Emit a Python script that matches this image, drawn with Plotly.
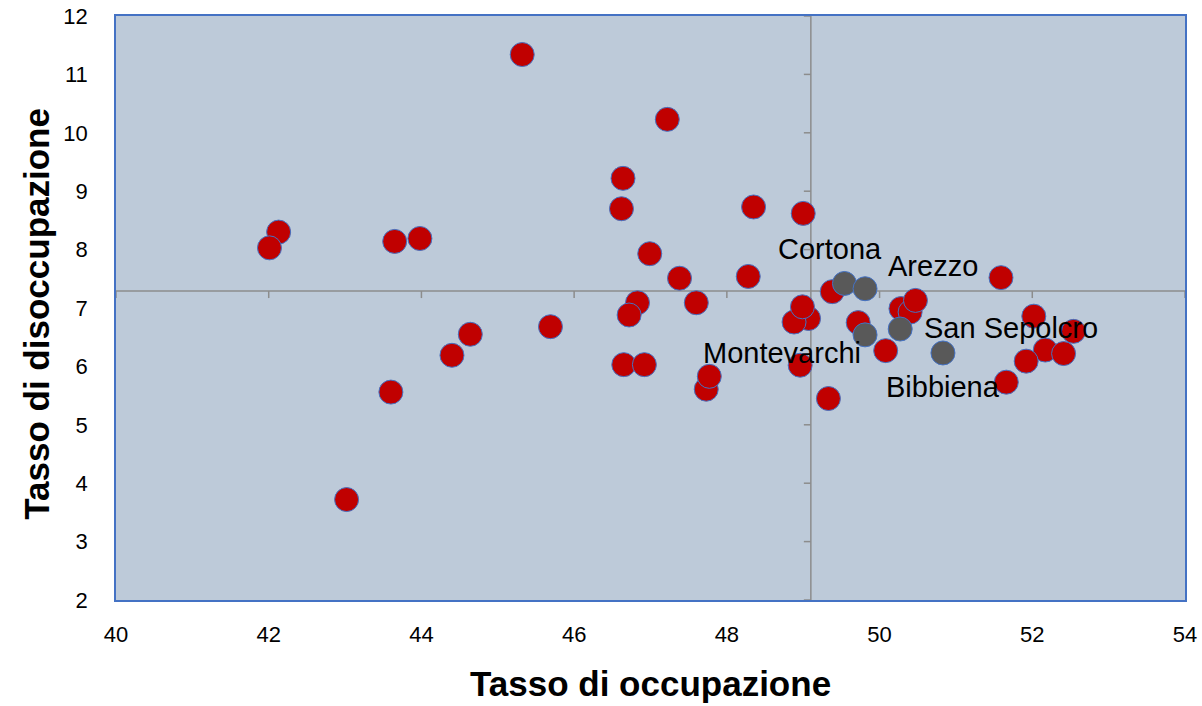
import plotly.graph_objects as go

# ---- data ----
red_x = [49.07, 48.88, 48.99, 42.13, 42.01, 43.65, 43.98, 45.32, 47.22, 46.64, 46.62,
         46.99, 48.35, 49.00, 47.38, 48.28, 46.83, 46.72, 47.60, 45.69, 46.65,
         46.92, 47.73, 47.77, 48.96, 49.33, 49.38, 49.72, 50.08, 50.28,
         50.40, 50.47, 51.59, 52.02, 52.54, 52.17, 52.41, 51.92, 51.66, 44.64,
         44.40, 43.60, 43.02]
red_y = [6.82, 6.76, 7.02, 8.30, 8.03, 8.14, 8.19, 11.34, 10.23, 9.22, 8.70,
         7.93, 8.73, 8.62, 7.51, 7.54, 7.09, 6.88, 7.09, 6.68, 6.03,
         6.03, 5.61, 5.83, 6.02, 5.45, 7.28, 6.75, 6.27, 6.99,
         6.93, 7.13, 7.52, 6.86, 6.60, 6.28, 6.22, 6.09, 5.73, 6.55,
         6.19, 5.56, 3.72]

gray_names = ["Cortona", "Arezzo", "Montevarchi", "San Sepolcro", "Bibbiena"]
gray_x = [49.54, 49.81, 49.81, 50.27, 50.83]
gray_y = [7.42, 7.33, 6.54, 6.64, 6.23]

x_ticks = [40, 42, 44, 46, 48, 50, 52, 54]
y_ticks = [2, 3, 4, 5, 6, 7, 8, 9, 10, 11, 12]
x_cross = 49.1   # vertical axis crosses here
y_cross = 7.29   # horizontal axis crosses here

x_title = "Tasso di occupazione"
y_title = "Tasso di disoccupazione"

# label offsets in pixels (style)
label_shift = {"Cortona": (-14, 34), "Arezzo": (68, 23), "Montevarchi": (-83, -18),
               "San Sepolcro": (111, 1), "Bibbiena": (0, -34)}

FONT = "Liberation Sans, Arial, sans-serif"
AXIS_COL = "#8C8C8C"

fig = go.Figure()
fig.add_trace(go.Scatter(
    x=red_x, y=red_y, mode="markers",
    marker=dict(size=24, color="#C00000", line=dict(color="#4472C4", width=1)),
    showlegend=False, hoverinfo="x+y"))
fig.add_trace(go.Scatter(
    x=gray_x, y=gray_y, mode="markers", text=gray_names,
    marker=dict(size=24, color="#595959", line=dict(color="#4472C4", width=1)),
    showlegend=False, hoverinfo="text+x+y"))

shapes = []
# crossing axis lines
shapes.append(dict(type="line", xref="x", yref="y", x0=x_ticks[0], x1=x_ticks[-1],
                   y0=y_cross, y1=y_cross, line=dict(color=AXIS_COL, width=1.5), layer="below"))
shapes.append(dict(type="line", xref="x", yref="y", x0=x_cross, x1=x_cross,
                   y0=y_ticks[0], y1=y_ticks[-1], line=dict(color=AXIS_COL, width=1.5), layer="below"))
# tick marks on crossing axes
for xv in x_ticks:
    shapes.append(dict(type="line", xref="x", yref="y", ysizemode="pixel", yanchor=y_cross,
                       x0=xv, x1=xv, y0=0, y1=-7, line=dict(color=AXIS_COL, width=1.5), layer="below"))
for yv in y_ticks:
    shapes.append(dict(type="line", xref="x", yref="y", xsizemode="pixel", xanchor=x_cross,
                       y0=yv, y1=yv, x0=0, x1=-7, line=dict(color=AXIS_COL, width=1.5), layer="below"))

annotations = []
for n, xv, yv in zip(gray_names, gray_x, gray_y):
    dx, dy = label_shift[n]
    annotations.append(dict(x=xv, y=yv, xref="x", yref="y", text=n, showarrow=False,
                            xshift=dx, yshift=dy, font=dict(family=FONT, size=29, color="#000000")))
annotations.append(dict(x=0.5, y=-0.143, xref="paper", yref="paper", text="<b>" + x_title + "</b>",
                        showarrow=False, xanchor="center", yanchor="middle",
                        font=dict(family=FONT, size=35, color="#000000")))
annotations.append(dict(x=-0.074, y=0.49, xref="paper", yref="paper", text="<b>" + y_title + "</b>",
                        showarrow=False, xanchor="center", yanchor="middle", textangle=-90,
                        font=dict(family=FONT, size=35, color="#000000")))

fig.update_layout(
    width=1202, height=706,
    margin=dict(l=116, r=17, t=16, b=106, autoexpand=False),
    paper_bgcolor="white", plot_bgcolor="#BDCAD9",
    font=dict(family=FONT, size=22, color="#000000"),
    shapes=shapes, annotations=annotations,
    xaxis=dict(range=[x_ticks[0], x_ticks[-1]], tickvals=x_ticks, showgrid=False, zeroline=False,
               showline=True, mirror=True, linecolor="#4472C4", linewidth=1.5,
               ticks="outside", ticklen=14, tickcolor="rgba(0,0,0,0)", automargin=False,
               ticklabeloverflow="allow", tickfont=dict(family=FONT, size=22)),
    yaxis=dict(range=[y_ticks[0], y_ticks[-1]], tickvals=y_ticks, showgrid=False, zeroline=False,
               showline=True, mirror=True, linecolor="#4472C4", linewidth=1.5,
               ticks="outside", ticklen=22, tickcolor="rgba(0,0,0,0)", automargin=False,
               ticklabeloverflow="allow", tickfont=dict(family=FONT, size=22)),
)

fig.write_html("out.html", config={"displayModeBar": False},
               post_script="document.body.style.margin='0px';document.body.style.overflow='hidden';")
